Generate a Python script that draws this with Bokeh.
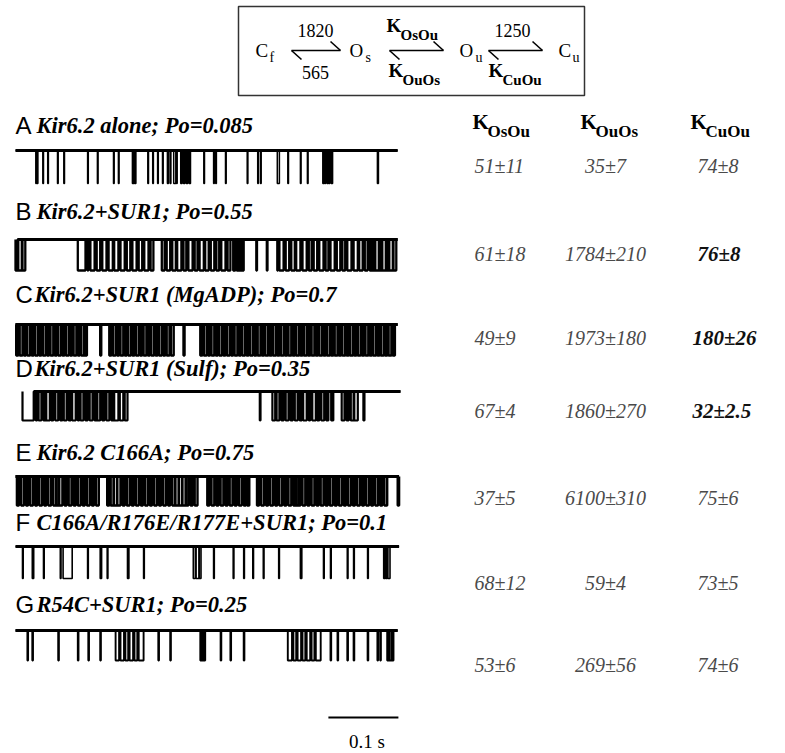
from bokeh.plotting import figure
from bokeh.models import Range1d
from bokeh.core.properties import value
from bokeh.embed import file_html
from bokeh.resources import INLINE

SERIF = "Liberation Serif"
SANS = "Liberation Sans"

# ---------------- data ----------------
panel_letters = ["A", "B", "C", "D", "E", "F", "G"]
panel_labels = [
    "Kir6.2 alone; Po=0.085",
    "Kir6.2+SUR1; Po=0.55",
    "Kir6.2+SUR1 (MgADP); Po=0.7",
    "Kir6.2+SUR1 (Sulf); Po=0.35",
    "Kir6.2 C166A; Po=0.75",
    "C166A/R176E/R177E+SUR1; Po=0.1",
    "R54C+SUR1; Po=0.25",
]
k_osou = ["51±11", "61±18", "49±9", "67±4", "37±5", "68±12", "53±6"]
k_ouos = ["35±7", "1784±210", "1973±180", "1860±270", "6100±310", "59±4", "269±56"]
k_cuou = ["74±8", "76±8", "180±26", "32±2.5", "75±6", "73±5", "74±6"]
k_cuou_bold = [False, True, True, True, False, False, False]
rate_cf_os = "1820"
rate_os_cf = "565"
rate_ou_cu = "1250"
scale_bar_ms = 100
scale_bar_label = "0.1 s"

# trace extents (ms) and closed intervals (ms) read from the records
trace_start = [0, 0, 0, 10, 0, 0, 0]
trace_end = [546, 546, 546, 550, 548, 548, 546]

closures_A = [(29, 30), (31, 32), (39, 40), (46, 47), (60, 61), (69, 70), (103, 104), (117, 118),
              (140, 141), (147, 148), (167, 169), (170, 172), (189, 190), (196, 197), (203, 204),
              (210, 211), (217, 218.5), (221, 222), (226, 229), (230, 231), (236, 238), (240, 242),
              (244, 246), (248, 250), (269, 270), (283, 284), (286, 287), (300, 301), (331, 332),
              (346, 347), (350, 351), (374, 377), (389, 390), (407, 408), (417, 418), (439, 441),
              (442, 443), (445, 447), (448, 449), (451, 453), (517, 518.5)]
closures_B = [(0, 3), (4, 9), (10, 14), (89, 100), (103, 104), (107, 113), (116, 121), (124, 130),
              (133, 139), (141, 147), (150, 156), (159, 164), (167, 173), (176, 181), (184, 190),
              (193, 197), (209, 213), (216, 221), (224, 229), (231, 237), (240, 244), (247, 253),
              (256, 260), (263, 269), (271, 276), (279, 284), (287, 291), (294, 300), (303, 307),
              (311, 314), (316, 319), (320, 323), (324, 326), (344, 345), (359, 360), (374, 375),
              (377, 383), (386, 391), (394, 399), (401, 407), (410, 416), (419, 423), (426, 431),
              (434, 440), (443, 447), (450, 456), (459, 464), (467, 471), (474, 480), (483, 489),
              (491, 496), (499, 503), (506, 509), (510, 513), (514, 519), (520, 523), (524, 529),
              (530, 533), (534, 539), (540, 544)]
closures_C = [(1, 4), (6, 10), (12, 15), (17, 21), (23, 26), (28, 32), (34, 37), (39, 43), (45, 48),
              (50, 54), (56, 59), (61, 65), (67, 70), (72, 76), (78, 81), (83, 87), (89, 92), (94, 98),
              (99, 102), (121, 122.5), (134, 137), (139, 143), (145, 148), (150, 154), (156, 159),
              (161, 165), (167, 170), (172, 176), (178, 181), (183, 187), (189, 192), (194, 198),
              (200, 203), (205, 209), (211, 214), (216, 220), (222, 226), (240, 241.5), (264, 267),
              (269, 273), (275, 278), (280, 284), (286, 289), (291, 295), (297, 300), (302, 306),
              (308, 311), (313, 317), (319, 322), (324, 328), (330, 333), (335, 339), (341, 344),
              (346, 350), (352, 355), (357, 361), (363, 366), (368, 372), (374, 377), (379, 383),
              (385, 388), (390, 394), (396, 399), (401, 405), (407, 410), (412, 416), (418, 421),
              (423, 427), (429, 432), (434, 438), (440, 443), (445, 449), (451, 454), (456, 460),
              (462, 465), (467, 471), (473, 476), (478, 482), (484, 487), (489, 493), (495, 498),
              (500, 504), (506, 509), (511, 515), (517, 520), (522, 526), (528, 531), (533, 537),
              (539, 542)]
closures_D = [(10, 26), (29, 31), (33, 37), (40, 43), (44, 49), (51, 54), (57, 61), (64, 67), (69, 73),
              (76, 79), (81, 86), (89, 91), (93, 97), (100, 103), (106, 110), (113, 116), (117, 121),
              (124, 127), (130, 134), (137, 140), (141, 147), (149, 154), (156, 160), (349, 350),
              (367, 371), (373, 377), (380, 383), (386, 390), (393, 396), (399, 403), (406, 409),
              (411, 416), (419, 421), (424, 429), (431, 434), (437, 441), (444, 447), (451, 454),
              (466, 470), (473, 476), (479, 483), (484, 489), (497, 498.5)]
closures_E = [(2, 5), (8, 12), (15, 18), (21, 25), (28, 31), (34, 38), (41, 44), (47, 51), (54, 58),
              (58.5, 62), (62.5, 67), (70, 73), (76, 80), (83, 86), (89, 93), (96, 99), (102, 106),
              (109, 112), (115, 119), (131, 134), (136, 140), (140.5, 145), (145.5, 150), (153, 156),
              (159, 163), (166, 169), (172, 176), (179, 182), (185, 189), (192, 195), (198, 202),
              (205, 208), (211, 215), (218, 221), (224, 228), (228.5, 233), (233.5, 238), (238.5, 243),
              (243.5, 247), (250, 253), (256, 260), (274, 277), (280, 284), (287, 290), (293, 297),
              (300, 303), (306, 310), (313, 316), (319, 323), (326, 329), (331, 334), (345, 348),
              (351, 355), (358, 361), (364, 368), (371, 374), (377, 381), (384, 387), (390, 394),
              (397, 400), (400.5, 404), (404.5, 407), (410, 414), (417, 420), (423, 427), (430, 433),
              (436, 440), (443, 446), (449, 453), (456, 459), (462, 466), (469, 472), (475, 479),
              (482, 485), (488, 492), (495, 498), (501, 505), (508, 511), (514, 518), (521, 524),
              (527, 531), (546, 548)]
closures_F = [(10, 11), (24, 26), (40, 41), (64, 65), (68, 81), (103, 104), (121, 123), (131, 132),
              (160, 162), (183, 184), (254, 257), (258, 262), (262.5, 265), (283, 284), (311, 312),
              (326, 327), (339, 340), (354, 355), (376, 377), (407, 409), (440, 441), (450, 451),
              (474, 475), (483, 484), (503, 504), (526, 528), (529, 531), (532, 535)]
closures_G = [(17, 18), (24, 25), (61, 62), (89, 90), (104, 105), (121, 122), (143, 148), (150, 155),
              (157, 161), (163, 168), (170, 174), (176, 183), (204, 205), (221, 222), (264, 266),
              (267, 269), (269.5, 271), (293, 294), (307, 308), (326, 327), (389, 395), (397, 401),
              (403, 408), (410, 414), (416, 421), (423, 427), (429, 436), (450, 451), (460, 461),
              (474, 475), (483, 484), (503, 504), (517, 518), (521, 522), (531, 533), (534, 537),
              (538, 540)]
closures = [closures_A, closures_B, closures_C, closures_D, closures_E, closures_F, closures_G]

# ---------------- layout ----------------
W, H = 784, 752
X0, Y0 = 0, 0
p = figure(width=W, height=H, output_backend="svg", toolbar_location=None,
           x_range=Range1d(X0, X0 + W), y_range=Range1d(Y0 + H, Y0),
           x_axis_location=None, y_axis_location=None, min_border=0,
           background_fill_color="white", border_fill_color="white")
p.grid.visible = False
p.outline_line_color = None

# time axis of the records: t=0 at x=15 px, 0.7 px per ms
T_X0, PX_PER_MS = 15.0, 0.7
p.extra_x_ranges = {"t": Range1d((X0 - T_X0) / PX_PER_MS, (X0 + W - T_X0) / PX_PER_MS)}

label_y = [125, 211, 294, 368, 452, 522, 604]
open_y = [150, 239, 324, 391, 476, 546, 630]
closed_y = [183, 270, 355, 420, 505, 578, 660]
value_y = [165, 253, 337, 410, 497, 582, 664]
label_x = [36, 36, 34, 34, 36, 36, 36]
trace_lw = [1.5, 2.3, 2.4, 2.2, 2.4, 1.6, 1.9]

for i in range(7):
    o, c = open_y[i], closed_y[i]
    p.extra_y_ranges[f"r{i}"] = Range1d((Y0 + H - c) / (o - c), (Y0 - c) / (o - c))
    xs, ys = [trace_start[i]], [1]
    for a, b in closures[i]:
        xs += [a, a, b, b]
        ys += [1, 0, 0, 1]
    xs.append(trace_end[i]); ys.append(1)
    p.line(xs, ys, x_range_name="t", y_range_name=f"r{i}", line_color="black", line_width=trace_lw[i])
    ov0 = trace_start[i]
    if closures[i][0][0] <= trace_start[i]:
        ov0 = closures[i][0][1]
    p.line([ov0, trace_end[i]], [1, 1], x_range_name="t", y_range_name=f"r{i}",
           line_color="black", line_width=3)

# panel letters and labels
p.text(x=[15] * 7, y=label_y, text=panel_letters, text_font=value(SANS), text_font_size="24px",
       text_baseline="middle", text_align="left", text_color="black")
p.text(x=label_x, y=label_y, text=panel_labels, text_font=value(SERIF), text_font_size="22.5px",
       text_font_style="bold italic", text_baseline="middle", text_align="left", text_color="black")

# rate constant table
p.text(x=[474] * 7, y=value_y, text=k_osou, text_font=value(SERIF), text_font_size="20px",
       text_font_style="italic", text_baseline="middle", text_align="left", text_color="#4a4a4a")
p.text(x=[605] * 7, y=value_y, text=k_ouos, text_font=value(SERIF), text_font_size="20px",
       text_font_style="italic", text_baseline="middle", text_align="center", text_color="#4a4a4a")
for i in range(7):
    p.text(x=[692 if k_cuou_bold[i] and len(k_cuou[i]) > 5 else 697], y=[value_y[i]], text=[k_cuou[i]],
           text_font=value(SERIF), text_font_size="21px" if k_cuou_bold[i] else "20px",
           text_font_style="bold italic" if k_cuou_bold[i] else "italic",
           text_baseline="middle", text_align="left",
           text_color="#111111" if k_cuou_bold[i] else "#4a4a4a")

# column headers K with subscripts
p.text(x=[472, 580, 690], y=[121, 121, 121], text=["K", "K", "K"], text_font=value(SERIF),
       text_font_size="21px", text_font_style="bold", text_baseline="middle", text_align="left")
p.text(x=[487, 595, 705], y=[131, 131, 131], text=["OsOu", "OuOs", "CuOu"], text_font=value(SERIF),
       text_font_size="17px", text_font_style="bold", text_baseline="middle", text_align="left")

# kinetic scheme box
p.quad(left=[238], right=[584], top=[6], bottom=[95], fill_color=None, line_color="#333333", line_width=1.5)
ar_x0 = [291, 389, 488]
ar_x1 = [340, 443, 542]
ar_y = 50
for a0, a1 in zip(ar_x0, ar_x1):
    p.segment(x0=[a0, a1 - 10, a0], y0=[ar_y, ar_y - 9, ar_y], x1=[a1, a1, a0 + 10], y1=[ar_y, ar_y, ar_y + 9],
              line_color="black", line_width=1.6)
p.text(x=[255, 349, 459, 558], y=[50] * 4, text=["C", "O", "O", "C"], text_font=value(SERIF),
       text_font_size="19px", text_baseline="middle", text_align="left")
p.text(x=[269, 365, 475, 572], y=[57] * 4, text=["f", "s", "u", "u"], text_font=value(SERIF),
       text_font_size="14px", text_baseline="middle", text_align="left")
p.text(x=[315, 512], y=[30, 30], text=[rate_cf_os, rate_ou_cu], text_font=value(SERIF),
       text_font_size="18px", text_baseline="middle", text_align="center")
p.text(x=[315], y=[72], text=[rate_os_cf], text_font=value(SERIF),
       text_font_size="18px", text_baseline="middle", text_align="center")
p.text(x=[386, 388, 488], y=[25, 70, 70], text=["K", "K", "K"], text_font=value(SERIF),
       text_font_size="19px", text_font_style="bold", text_baseline="middle", text_align="left")
p.text(x=[400, 402, 502], y=[34, 79, 79], text=["OsOu", "OuOs", "CuOu"], text_font=value(SERIF),
       text_font_size="15px", text_font_style="bold", text_baseline="middle", text_align="left")

# scale bar (in record time units)
sb_start = 447
p.line([sb_start, sb_start + scale_bar_ms], [717, 717], x_range_name="t",
       line_color="black", line_width=2)
p.text(x=[sb_start + scale_bar_ms / 2 + 5], y=[741], text=[scale_bar_label], x_range_name="t",
       text_font=value(SERIF), text_font_size="19px", text_baseline="middle",
       text_align="center")

open("out.html", "w").write(file_html(p, INLINE))
